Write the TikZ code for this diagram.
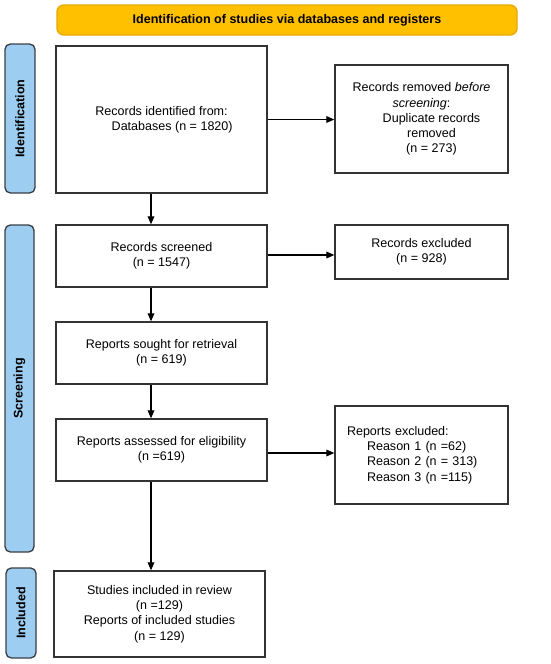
\documentclass[tikz,border=0pt]{standalone}
\usepackage{fontspec}
\setmainfont{Liberation Sans}
\usetikzlibrary{arrows.meta}
\definecolor{hdrfill}{HTML}{FFC000}
\definecolor{hdrdraw}{HTML}{E8A800}
\definecolor{barfill}{HTML}{9DCDF0}
\definecolor{bardraw}{HTML}{3A3F45}
\definecolor{boxdraw}{HTML}{333333}
\tikzset{
  txt/.style={font=\fontsize{9.4}{11.4}\selectfont},
  box/.style={draw=boxdraw, line width=1pt, fill=white, txt, align=center, inner sep=0pt},
  phase/.style={draw=bardraw, line width=1pt, fill=barfill, rounded corners=4pt, inner sep=0pt},
  phaselabel/.style={rotate=90, font=\fontsize{9.4}{11.4}\selectfont\bfseries},
  header/.style={draw=hdrdraw, line width=1pt, fill=hdrfill, rounded corners=5pt, inner sep=0pt,
    font=\fontsize{9.4}{11.4}\selectfont\bfseries},
  arr/.style={draw=black, line width=0.9pt, -{Triangle[length=6pt,width=5pt]}}
}
\begin{document}
\begin{tikzpicture}[x=0.75pt,y=-0.75pt]
\useasboundingbox (0,0) rectangle (550,664);
% header
\node[header, minimum width=345pt, minimum height=22.5pt] (hdr) at (287,20) {Identification of studies via databases and registers};
% phase bars
\node[phase, minimum width=22.5pt, minimum height=111.75pt] (idbar) at (20,118.5) {};
\node[phaselabel] (idlab) at (idbar.center) {Identification};
\node[phase, minimum width=21.75pt, minimum height=245.25pt] (scbar) at (19.5,388.5) {};
\node[phaselabel] (sclab) at (scbar.center) {Screening};
\node[phase, minimum width=22.5pt, minimum height=67.5pt] (inbar) at (21,613) {};
\node[phaselabel] (inlab) at (inbar.center) {Included};
% boxes
\node[box, minimum width=158.25pt, minimum height=110.25pt] (ident) at (161.5,119.5)
  {Records identified from:\\\hspace*{16pt}Databases (n = 1820)};
\node[box, minimum width=129.75pt, minimum height=81pt] (removed) at (421.5,119)
  {Records removed \textit{before}\\\textit{screening}:\\\hspace*{15pt}Duplicate records\\\hspace*{15pt}removed\\\hspace*{15pt}(n = 273)};
\node[box, minimum width=158.25pt, minimum height=46.5pt] (screened) at (161.5,256)
  {Records screened\\(n = 1547)};
\node[box, minimum width=129.75pt, minimum height=40.5pt] (excluded) at (421.5,252)
  {Records excluded\\(n = 928)};
\node[box, minimum width=158.25pt, minimum height=46.5pt] (sought) at (161.5,353)
  {Reports sought for retrieval\\(n = 619)};
\node[box, minimum width=158.25pt, minimum height=46.5pt] (assessed) at (161.5,450)
  {Reports assessed for eligibility\\(n =619)};
\node[box, minimum width=129.75pt, minimum height=73.5pt, align=left, text width=111.75pt] (reasons) at (421.5,455)
  {Reports excluded:\\\hspace*{15pt}Reason 1 (n =62)\\\hspace*{15pt}Reason 2 (n = 313)\\\hspace*{15pt}Reason 3 (n =115)};
\node[box, minimum width=158.25pt, minimum height=64.5pt] (final) at (159.5,614)
  {Studies included in review\\(n =129)\\Reports of included studies\\(n = 129)};
% connectors
\coordinate (col) at (151,0);
\coordinate (r2) at (0,255);
\coordinate (r3) at (0,453);
\draw[arr] (ident.south -| col) -- (screened.north -| col);
\draw[arr] (screened.south -| col) -- (sought.north -| col);
\draw[arr] (sought.south -| col) -- (assessed.north -| col);
\draw[arr] (assessed.south -| col) -- (final.north -| col);
\draw[arr] (ident.east) -- (removed.west |- ident.east);
\draw[arr] (screened.east |- r2) -- (excluded.west |- r2);
\draw[arr] (assessed.east |- r3) -- (reasons.west |- r3);
\end{tikzpicture}
\end{document}
